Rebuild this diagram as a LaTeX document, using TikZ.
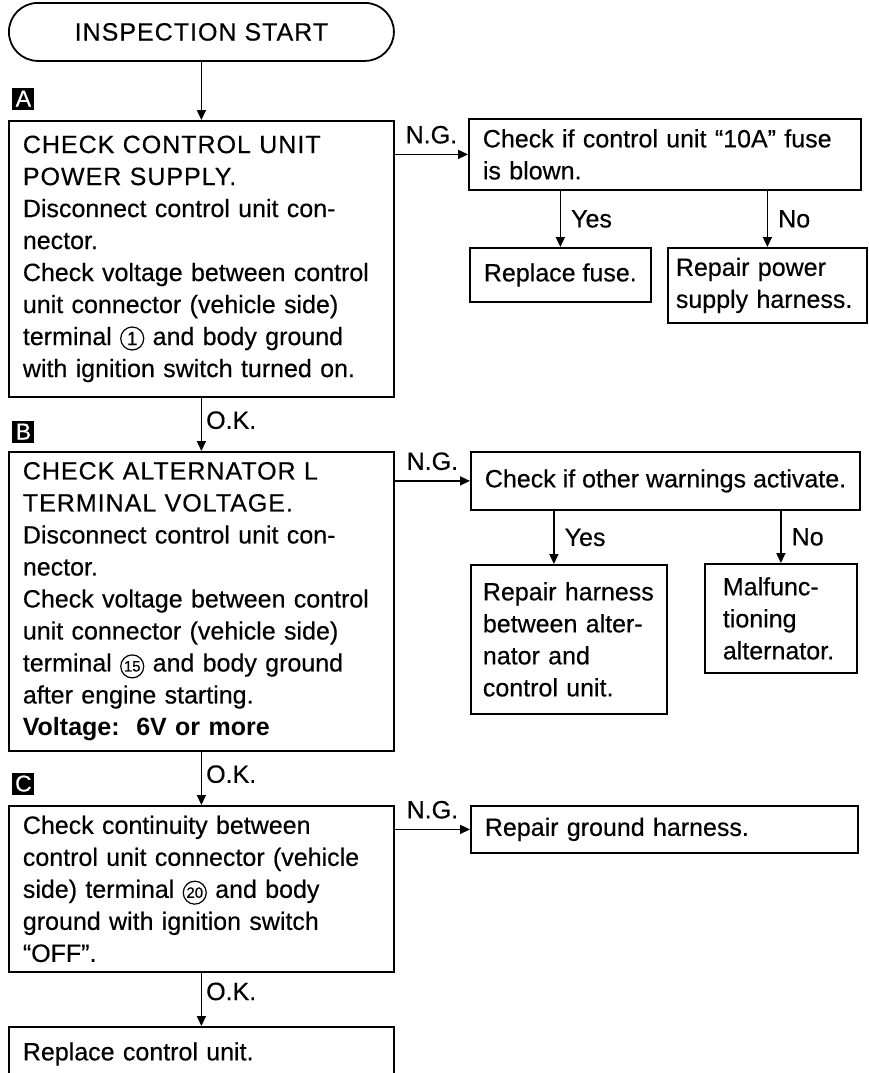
\documentclass[tikz,border=0pt]{standalone}
\usepackage{fontspec}
\setmainfont{Liberation Sans}[UprightFeatures={FakeBold=0.4}]
\newfontfamily\capsfont{Liberation Sans}[LetterSpace=4, FakeBold=0.4]
\usetikzlibrary{arrows.meta, positioning}

% circled terminal number
\newcommand{\cnum}[2][9.5]{\tikz[baseline=(cn.base)]\node[circle, draw, line width=0.6pt, inner sep=0.3pt, minimum size=11.5pt, text width={}, align=center, anchor=center, font=\fontsize{#1}{#1}\selectfont] (cn) {#2};}

\begin{document}
\begin{tikzpicture}[
        x=0.5pt, y=-0.5pt,
        every node/.style={font=\fontsize{12.5}{16}\selectfont},
        box/.style={rectangle, draw, line width=0.9pt, anchor=north west, inner xsep=7pt, align=left},
        term/.style={rectangle, draw, line width=0.9pt, rounded corners=14.5pt, anchor=north west, minimum width=192.5pt, minimum height=29pt, font=\fontsize{12.5}{16}\selectfont\capsfont},
        tag/.style={fill=black, text=white, inner sep=0pt, minimum size=11pt, font=\fontsize{11.5}{11.5}\selectfont},
        arrow/.style={-{Triangle[length=5pt, width=4.5pt]}, line width=0.8pt},
        lbl/.style={inner sep=2pt}
    ]
        \clip (0,0) rectangle (869,1073);

        % Main column
        \node[term] (start) at (8,2) {INSPECTION START};
        \node[box, minimum width=192.5pt, text width=178.5pt, minimum height=138pt] (chkA) at (8,120)
            {{\capsfont CHECK CONTROL UNIT}\\{\capsfont POWER SUPPLY.}\\Disconnect control unit con-\\nector.\\Check voltage between control\\unit connector (vehicle side)\\terminal \cnum{1} and body ground\\with ignition switch turned on.};
        \node[box, minimum width=192.5pt, text width=178.5pt, minimum height=149.5pt] (chkB) at (8,451)
            {{\capsfont CHECK ALTERNATOR L}\\{\capsfont TERMINAL VOLTAGE.}\\Disconnect control unit con-\\nector.\\Check voltage between control\\unit connector (vehicle side)\\terminal \cnum[7.5]{15} and body ground\\after engine starting.\\\textbf{Voltage:\ \ 6V or more}};
        \node[box, minimum width=192.5pt, text width=178.5pt, minimum height=83pt] (chkC) at (8,805)
            {Check continuity between\\control unit connector (vehicle\\side) terminal \cnum[7.5]{20} and body\\ground with ignition switch\\“OFF”.};
        \node[box, minimum width=192.5pt, text width=178.5pt, minimum height=27pt] (repCU) at (8,1026) {Replace control unit.};

        % Step tags
        \node[tag, above right=5pt and 2pt of chkA.north west] (tagA) {A};
        \node[tag, above right=4pt and 2pt of chkB.north west] (tagB) {B};
        \node[tag, above right=5pt and 2pt of chkC.north west] (tagC) {C};

        % N.G. branches
        \node[box, minimum width=196pt, text width=182pt, minimum height=35.5pt] (fuseChk) at (468,118) {Check if control unit “10A” fuse\\is blown.};
        \node[box, minimum width=89.5pt, minimum height=27pt, align=center] (repFuse) at (469,247) {Replace fuse.};
        \node[box, minimum width=99.5pt, inner xsep=4pt, text width=91.5pt, minimum height=37.5pt] (repPS) at (667,247) {Repair power\\supply harness.};

        \node[box, minimum width=193pt, minimum height=29pt] (warnChk) at (470,451) {Check if other warnings activate.};
        \node[box, minimum width=98pt, inner xsep=6pt, text width=86pt, minimum height=74.5pt] (repHarn) at (470,564) {Repair harness\\between alter-\\nator and\\control unit.};
        \node[box, minimum width=76pt, inner xsep=9pt, text width=58pt, minimum height=54.5pt] (malAlt) at (704,563) {Malfunc-\\tioning\\alternator.};

        \node[box, minimum width=193.5pt, text width=179.5pt, minimum height=23.5pt] (repGnd) at (470,805) {Repair ground harness.};

        % Arrows (main)
        \draw[arrow] (start.south) -- (chkA.north);
        \draw[arrow] (chkA.south) -- node[lbl, right, pos=0.42] {O.K.} (chkB.north);
        \draw[arrow] (chkB.south) -- node[lbl, right, pos=0.42] {O.K.} (chkC.north);
        \draw[arrow] (chkC.south) -- node[lbl, right, pos=0.35] {O.K.} (repCU.north);

        % Arrows (N.G.)
        \draw[arrow] (fuseChk.west -| chkA.east) -- node[lbl, above=3pt] {N.G.} (fuseChk.west);
        \draw[arrow] (repFuse.north |- fuseChk.south) -- node[lbl, right=3pt] {Yes} (repFuse.north);
        \draw[arrow] (repPS.north |- fuseChk.south) -- node[lbl, right=3pt] {No} (repPS.north);

        \draw[arrow] (warnChk.west -| chkB.east) -- node[lbl, above=3pt] {N.G.} (warnChk.west);
        \draw[arrow] ([xshift=-7.5pt]repHarn.north |- warnChk.south) -- node[lbl, right=3pt] {Yes} ([xshift=-7.5pt]repHarn.north);
        \draw[arrow] (malAlt.north |- warnChk.south) -- node[lbl, right=3pt] {No} (malAlt.north);

        \draw[arrow] (repGnd.west -| chkC.east) -- node[lbl, above=3pt] {N.G.} (repGnd.west);

    \end{tikzpicture}
\end{document}
